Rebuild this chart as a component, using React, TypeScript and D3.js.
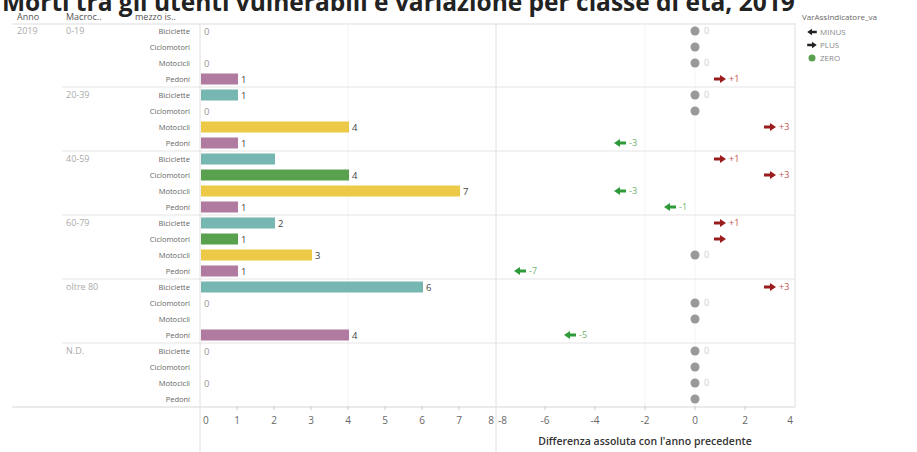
import React from "react";
import * as d3 from "d3";

const title = "Morti tra gli utenti vulnerabili e variazione per classe di età, 2019";
const year = "2019";
const ageGroups = ["0-19", "20-39", "40-59", "60-79", "oltre 80", "N.D."];
const vehicles = ["Biciclette", "Ciclomotori", "Motocicli", "Pedoni"];
const vehicleColors = ["#76b7b2", "#59a14f", "#edc948", "#b07aa1"];
// deaths per age group x vehicle (null = no data)
const counts: (number | null)[][] = [
  [0, null, 0, 1],
  [1, 0, 4, 1],
  [2, 4, 7, 1],
  [2, 1, 3, 1],
  [6, 0, null, 4],
  [0, null, 0, null],
];
const hiddenCountLabels = ["40-59|Biciclette"];
// absolute difference with previous year
const diffs: number[][] = [
  [0, 0, 0, 1],
  [0, 0, 3, -3],
  [1, 3, -3, -1],
  [1, 1, 0, -7],
  [3, 0, 0, -5],
  [0, 0, 0, 0],
];
const hiddenDiffLabels = [
  "0-19|Ciclomotori",
  "20-39|Ciclomotori",
  "60-79|Ciclomotori",
  "oltre 80|Motocicli",
  "N.D.|Ciclomotori",
  "N.D.|Pedoni",
];
const barTicks = [0, 1, 2, 3, 4, 5, 6, 7, 8];
const diffTicks = [-8, -6, -4, -2, 0, 2, 4];
const legendTitle = "VarAssIndicatore_va";
const legendItems = ["MINUS", "PLUS", "ZERO"];
const headers = ["Anno", "Macroc..", "mezzo is.."];
const axisTitle = "Differenza assoluta con l'anno precedente";

const W = 917;
const H = 452;
const FONT = "'Open Sans', 'DejaVu Sans', sans-serif";

export default function App() {
  const rowKeys: string[] = [];
  ageGroups.forEach((a) => vehicles.forEach((v) => rowKeys.push(a + "|" + v)));
  const top = 23;
  const bottom = 407;
  const y = d3.scaleBand<string>().domain(rowKeys).range([top, bottom]).paddingInner(0).paddingOuter(0);
  const rowH = y.bandwidth();
  const groupY = d3.scaleBand<string>().domain(ageGroups).range([top, bottom]);
  const xBar = d3.scaleLinear().domain([0, 8]).range([200, 496]);
  const xDiff = d3.scaleLinear().domain([-8, 4]).range([495, 795]);
  const barH = 11;

  const arrow = (dir: number) =>
    `M${-6 * dir},-1.6 L${0},-1.6 L${0},-4 L${6 * dir},0 L${0},4 L${0},1.6 L${-6 * dir},1.6 Z`;

  const plusColor = "#9b1c1c";
  const minusColor = "#2f9a3a";

  return (
    <svg width={W} height={H} style={{ position: "absolute", left: 0, top: 0, background: "#fff" }} fontFamily={FONT}>
      <text x={2} y={11} fontSize={24.5} fontWeight={700} fill="#222">
        {title}
      </text>

      {/* headers */}
      <text x={17} y={19.5} fontSize={9} fill="#555">{headers[0]}</text>
      <text x={66} y={19.5} fontSize={9} fill="#555">{headers[1]}</text>
      <text x={135} y={19.5} fontSize={9} fill="#555">{headers[2]}</text>
      <line x1={12} x2={795} y1={top + 1} y2={top + 1} stroke="#ddd" />

      {/* faint grid */}
      <line x1={xBar(4)} x2={xBar(4)} y1={top} y2={bottom} stroke="#f3f3f3" />
      <line x1={xDiff(-2)} x2={xDiff(-2)} y1={top} y2={bottom} stroke="#f3f3f3" />
      <line x1={xDiff(0)} x2={xDiff(0)} y1={top} y2={bottom} stroke="#f3f3f3" />

      {/* group separators */}
      {ageGroups.slice(1).map((g) => (
        <line key={g} x1={62} x2={795} y1={groupY(g)!} y2={groupY(g)!} stroke="#e4e4e4" />
      ))}
      <line x1={12} x2={795} y1={bottom} y2={bottom} stroke="#d6d6d6" />

      {/* vertical panel lines */}
      <line x1={200} x2={200} y1={top} y2={H} stroke="#e0e0e0" />
      <line x1={496} x2={496} y1={top} y2={H} stroke="#e0e0e0" />
      <line x1={795} x2={795} y1={top} y2={bottom} stroke="#e0e0e0" />

      <text x={17} y={top + rowH / 2 + 3} fontSize={9} fill="#aaa">{year}</text>
      {ageGroups.map((g) => (
        <text key={g} x={66} y={groupY(g)! + rowH / 2 + 3} fontSize={9} fill="#aaa">
          {g}
        </text>
      ))}

      {ageGroups.map((g, gi) =>
        vehicles.map((v, vi) => {
          const key = g + "|" + v;
          const cy = y(key)! + rowH / 2;
          const c = counts[gi][vi];
          const d = diffs[gi][vi];
          const showC = c !== null && !hiddenCountLabels.includes(key);
          const showD = !hiddenDiffLabels.includes(key);
          return (
            <g key={key}>
              <text x={190} y={cy + 2.5} fontSize={7.5} fill="#666" textAnchor="end">
                {v}
              </text>
              {c !== null && c > 0 && (
                <rect x={xBar(0) + 1} y={cy - barH / 2} width={xBar(c) - xBar(0)} height={barH} fill={vehicleColors[vi]} />
              )}
              {showC && (
                <text x={xBar(c as number) + 4} y={cy + 3.5} fontSize={9.5} fill={c === 0 ? "#999" : "#444"}>
                  {String(c)}
                </text>
              )}
              {d === 0 ? (
                <circle cx={xDiff(0)} cy={cy} r={4.5} fill="#999" />
              ) : (
                <path d={arrow(d > 0 ? 1 : -1)} transform={`translate(${xDiff(d)},${cy})`} fill={d > 0 ? plusColor : minusColor} />
              )}
              {showD && (
                <text
                  x={xDiff(d) + 9}
                  y={cy + 3}
                  fontSize={9}
                  fill={d === 0 ? "#ccc" : d > 0 ? "#c0504d" : "#6cb36c"}
                >
                  {d > 0 ? "+" + d : String(d)}
                </text>
              )}
            </g>
          );
        })
      )}

      {/* bar axis */}
      {barTicks.map((t, i) => (
        <g key={"b" + t}>
          {i > 0 && i < barTicks.length - 1 && (
            <line x1={xBar(t)} x2={xBar(t)} y1={bottom - 1} y2={bottom + 3} stroke="#ccc" />
          )}
          <text
            x={i === 0 ? xBar(t) + 3 : i === barTicks.length - 1 ? xBar(t) - 2 : xBar(t)}
            y={bottom + 17}
            fontSize={10}
            fill="#666"
            textAnchor={i === 0 ? "start" : i === barTicks.length - 1 ? "end" : "middle"}
          >
            {t}
          </text>
        </g>
      ))}
      {diffTicks.map((t, i) => (
        <g key={"d" + t}>
          {i > 0 && i < diffTicks.length - 1 && (
            <line x1={xDiff(t)} x2={xDiff(t)} y1={bottom - 1} y2={bottom + 3} stroke="#ccc" />
          )}
          <text
            x={i === 0 ? xDiff(t) + 3 : i === diffTicks.length - 1 ? xDiff(t) - 2 : xDiff(t)}
            y={bottom + 17}
            fontSize={10}
            fill="#666"
            textAnchor={i === 0 ? "start" : i === diffTicks.length - 1 ? "end" : "middle"}
          >
            {t < 0 ? "-" + Math.abs(t) : String(t)}
          </text>
        </g>
      ))}
      <text x={(xDiff(-8) + xDiff(4)) / 2} y={445} fontSize={10.5} fontWeight={600} fill="#333" textAnchor="middle">
        {axisTitle}
      </text>

      {/* legend */}
      <text x={802} y={20} fontSize={8} fill="#666">{legendTitle}</text>
      {legendItems.map((it, i) => {
        const ly = 32 + i * 13;
        return (
          <g key={it}>
            {it === "ZERO" ? (
              <circle cx={812} cy={ly} r={3.5} fill="#59a14f" />
            ) : (
              <path d={arrow(it === "PLUS" ? 1 : -1)} transform={`translate(812,${ly}) scale(0.8)`} fill="#222" />
            )}
            <text x={820} y={ly + 3} fontSize={8} fill="#888">
              {it}
            </text>
          </g>
        );
      })}
    </svg>
  );
}
